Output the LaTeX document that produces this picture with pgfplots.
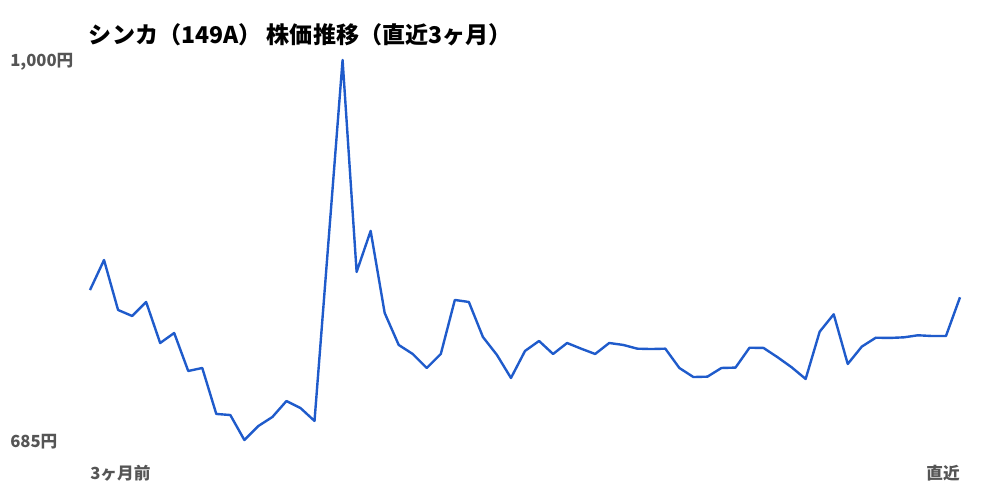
\documentclass[border=0pt]{standalone}
\usepackage{fontspec}
\setmainfont{Noto Sans CJK JP}
\usepackage{pgfplots}
\pgfplotsset{compat=1.18}
\definecolor{lineblue}{HTML}{1F5BCB}
\definecolor{labelgray}{HTML}{555555}
\begin{document}
\begin{tikzpicture}
\useasboundingbox (0,0) rectangle (750pt,375pt);
\begin{axis}[
    at={(67.5pt,45pt)}, anchor=south west,
    scale only axis,
    width=652.5pt, height=285pt,
    xmin=0, xmax=62,
    ymin=685, ymax=1000,
    hide axis,
    clip=false,
]
% price over the last 3 months (x = trading day index)
\addplot[color=lineblue, line width=1.8pt, line join=round] coordinates {
(0,809.3) (1,834.2) (2,792.8) (3,787.8) (4,799.4) (5,765.4) (6,773.7) (7,742.2)
(8,744.7) (9,706.6) (10,705.7) (11,685) (12,696.6) (13,704.1) (14,717.3) (15,711.5)
(16,700.8) (18,1000) (19,824.3) (20,858.3) (21,790.3) (22,763.8) (23,756.3)
(24,744.7) (25,756.3) (26,801.1) (27,799.4) (28,770.4) (29,755.5) (30,736.4)
(31,758.8) (32,767.1) (33,756.3) (34,765.4) (35,760.7) (36,756.3) (37,765.4)
(38,763.8) (39,760.7) (40,760.4) (41,760.7) (42,744.7) (43,737.2) (44,737.5)
(45,744.7) (46,745) (47,761.5) (48,761.3) (49,753.6) (50,745.3) (51,735.6)
(52,774.8) (53,789.2) (54,748.0) (55,762.4) (56,769.8) (57,769.6) (58,770.1)
(59,771.8) (60,771.2) (61,771.2) (62,803.3)
};
\end{axis}
\node[anchor=west, inner sep=0, font=\fontsize{17.3pt}{20pt}\selectfont\bfseries] at (66.5pt,349pt) {シンカ（149A） 株価推移（直近3ヶ月）};
\node[anchor=west, inner sep=0, text=labelgray, font=\fontsize{12.5pt}{15pt}\selectfont\bfseries] at (7.5pt,328.5pt) {1,000円};
\node[anchor=west, inner sep=0, text=labelgray, font=\fontsize{12.5pt}{15pt}\selectfont\bfseries] at (7.5pt,43.5pt) {685円};
\node[anchor=west, inner sep=0, text=labelgray, font=\fontsize{12.5pt}{15pt}\selectfont\bfseries] at (67.5pt,20.25pt) {3ヶ月前};
\node[anchor=east, inner sep=0, text=labelgray, font=\fontsize{12.5pt}{15pt}\selectfont\bfseries] at (720pt,20.25pt) {直近};
\end{tikzpicture}
\end{document}
